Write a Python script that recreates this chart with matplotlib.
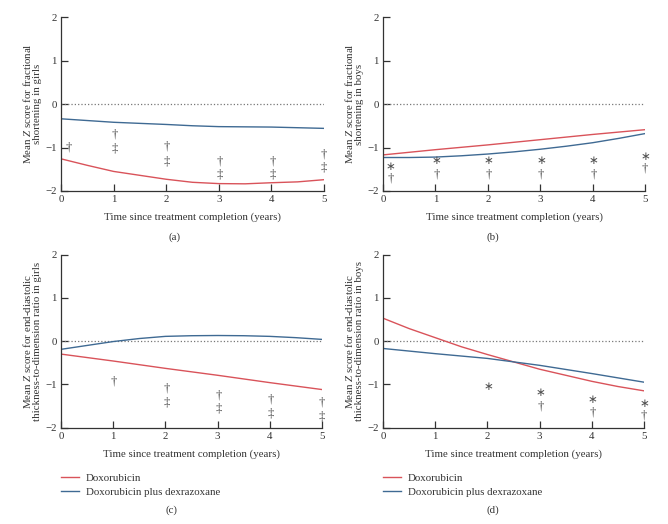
import matplotlib
matplotlib.use('Agg')
import matplotlib.pyplot as plt

plt.rcParams['font.family'] = ['Liberation Serif', 'DejaVu Serif']
plt.rcParams['mathtext.fontset'] = 'custom'
plt.rcParams['mathtext.it'] = 'Liberation Serif:italic'
plt.rcParams['mathtext.rm'] = 'Liberation Serif'

RED = '#d9535a'
BLUE = '#3f6a93'
SYM = '#505050'
TXT = '#333333'
FS = 7.8

# x positions (years)
years = [0, 1, 2, 3, 4, 5]
half_years = [0, 0.5, 1, 1.5, 2, 2.5, 3, 3.5, 4, 4.5, 5]

# (a) fractional shortening, girls
a_dox = [-1.26, -1.41, -1.55, -1.64, -1.73, -1.80, -1.83, -1.835, -1.81, -1.79, -1.74]
a_dex = [-0.34, -0.38, -0.42, -0.445, -0.47, -0.50, -0.52, -0.525, -0.53, -0.545, -0.56]
a_sym_x = [0.14, 1.02, 1.02, 2.02, 2.02, 3.02, 3.02, 4.02, 4.02, 5.0, 5.0]
a_sym_y = [-1.0, -0.70, -1.02, -0.98, -1.33, -1.32, -1.62, -1.32, -1.62, -1.16, -1.46]
a_sym = ['†', '†', '‡', '†', '‡', '†', '‡', '†', '‡', '†', '‡']

# (b) fractional shortening, boys
b_dox = [-1.17, -1.05, -0.94, -0.82, -0.70, -0.59]
b_dex = [-1.23, -1.23, -1.22, -1.19, -1.15, -1.10, -1.04, -0.97, -0.89, -0.79, -0.68]
b_sym_x = [0.14, 0.14, 1.02, 1.02, 2.02, 2.02, 3.02, 3.02, 4.02, 4.02, 5.0, 5.0]
b_sym_y = [-1.44, -1.72, -1.31, -1.63, -1.31, -1.63, -1.31, -1.63, -1.31, -1.63, -1.20, -1.49]
b_sym = ['∗', '†', '∗', '†', '∗', '†', '∗', '†', '∗', '†', '∗', '†']

# (c) end-diastolic thickness-to-dimension ratio, girls
c_dox = [-0.30, -0.46, -0.63, -0.79, -0.96, -1.12]
c_dex = [-0.19, -0.10, -0.01, 0.06, 0.11, 0.125, 0.13, 0.125, 0.11, 0.08, 0.04]
c_sym_x = [1.02, 2.02, 2.02, 3.02, 3.02, 4.02, 4.02, 5.0, 5.0]
c_sym_y = [-0.93, -1.09, -1.43, -1.25, -1.55, -1.34, -1.68, -1.41, -1.74]
c_sym = ['†', '†', '‡', '†', '‡', '†', '‡', '†', '‡']

# (d) end-diastolic thickness-to-dimension ratio, boys
d_dox = [0.53, 0.29, 0.08, -0.13, -0.31, -0.48, -0.65, -0.79, -0.93, -1.05, -1.15]
d_dex = [-0.17, -0.29, -0.40, -0.56, -0.75, -0.95]
d_sym_x = [2.02, 3.02, 3.02, 4.02, 4.02, 5.0, 5.0]
d_sym_y = [-1.04, -1.18, -1.51, -1.34, -1.65, -1.45, -1.72]
d_sym = ['∗', '∗', '†', '∗', '†', '∗', '†']

ylabels = [
    'Mean $Z$ score for fractional\nshortening in girls',
    'Mean $Z$ score for fractional\nshortening in boys',
    'Mean $Z$ score for end-diastolic\nthickness-to-dimension ratio in girls',
    'Mean $Z$ score for end-diastolic\nthickness-to-dimension ratio in boys',
]

panels = [
    (half_years, a_dox, half_years, a_dex, a_sym_x, a_sym_y, a_sym),
    (years, b_dox, half_years, b_dex, b_sym_x, b_sym_y, b_sym),
    (years, c_dox, half_years, c_dex, c_sym_x, c_sym_y, c_sym),
    (half_years, d_dox, years, d_dex, d_sym_x, d_sym_y, d_sym),
]

fig = plt.figure(figsize=(6.68, 5.24), dpi=100)
rects = [
    [0.0913, 0.6355, 0.3937, 0.332],
    [0.5734, 0.6355, 0.3922, 0.332],
    [0.0913, 0.1840, 0.3907, 0.330],
    [0.5734, 0.1840, 0.3907, 0.330],
]
tags = ['(a)', '(b)', '(c)', '(d)']
tag_pos = [(0.261, 0.547), (0.737, 0.547), (0.256, 0.026), (0.737, 0.026)]

for i, (rect, panel) in enumerate(zip(rects, panels)):
    xr, yr, xb, yb, sx, sy, st = panel
    ax = fig.add_axes(rect)
    ax.axhline(0, color='#777777', linestyle=':', linewidth=0.9)
    ax.plot(xr, yr, color=RED, linewidth=1.0, label='Doxorubicin')
    ax.plot(xb, yb, color=BLUE, linewidth=1.0, label='Doxorubicin plus dexrazoxane')
    for x, y, s in zip(sx, sy, st):
        if s == '∗':
            ax.text(x, y, s, color=SYM, fontsize=8.5, ha='center', va='center',
                    family=['DejaVu Sans'])
        else:
            ax.text(x, y, s, color=SYM, fontsize=9.2, ha='center', va='center')
    ax.set_xlim(0, 5)
    ax.set_ylim(-2, 2)
    ax.set_xticks(years)
    ax.set_yticks([-2, -1, 0, 1, 2])
    ax.set_yticklabels(['\u22122', '\u22121', '0', '1', '2'])
    ax.spines['top'].set_visible(False)
    ax.spines['right'].set_visible(False)
    for sp in ('left', 'bottom'):
        ax.spines[sp].set_color(TXT)
        ax.spines[sp].set_linewidth(0.9)
    ax.tick_params(direction='in', length=5, width=0.9, color=TXT,
                   labelsize=FS, labelcolor=TXT, pad=3)
    ax.set_xlabel('Time since treatment completion (years)', fontsize=FS,
                  color=TXT, labelpad=6)
    ax.set_ylabel(ylabels[i], fontsize=FS, color=TXT, labelpad=2,
                  linespacing=1.05)
    if i >= 2:
        ax.legend(loc='upper left', bbox_to_anchor=(rect[0], 0.096),
                  bbox_transform=fig.transFigure, frameon=False, fontsize=FS,
                  handlelength=1.7, handletextpad=0.6, labelspacing=0.35,
                  borderpad=0, borderaxespad=0, labelcolor=TXT)
    fig.text(tag_pos[i][0], tag_pos[i][1], tags[i], fontsize=FS, color=TXT,
             ha='center', va='center')

fig.savefig('out.png', dpi=100)
